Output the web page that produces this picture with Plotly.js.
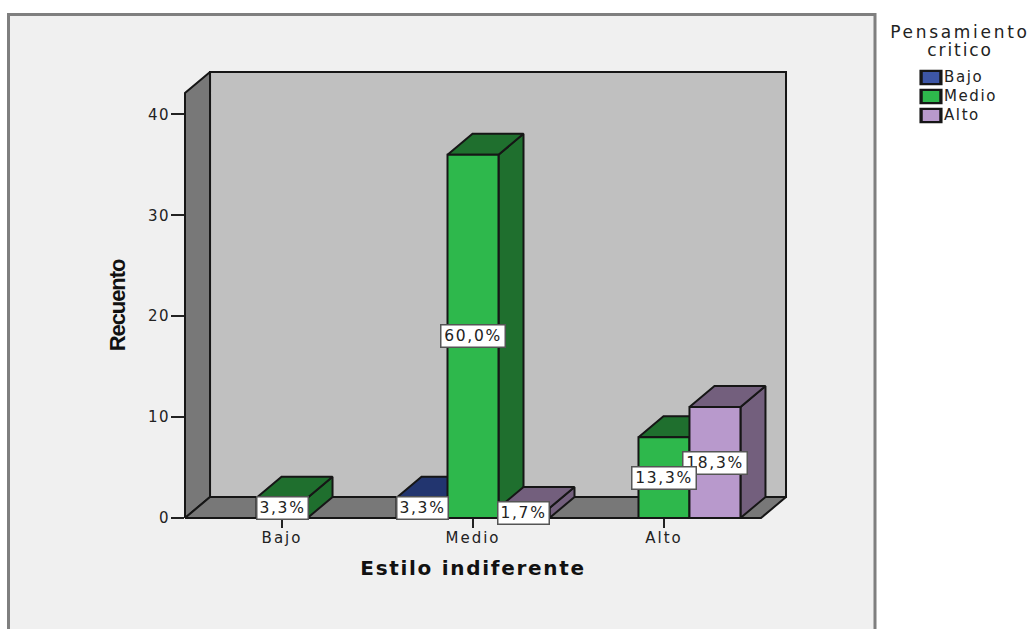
<!DOCTYPE html>
<html>
<head>
<meta charset="utf-8">
<script src="https://cdn.plot.ly/plotly-3.0.1.min.js"></script>
<style>
html,body{margin:0;padding:0;background:#fff;overflow:hidden}
.xtick text{letter-spacing:2px}
.ytick text{letter-spacing:1.5px}
.g-xtitle text{letter-spacing:1.7px}
.g-ytitle text{letter-spacing:-1.1px}
.legendtext{letter-spacing:1.6px;font-size:15px !important}
.annotation text{letter-spacing:1.7px}
.annotation[data-index="6"] text{letter-spacing:2.7px}
.annotation[data-index="7"] text{letter-spacing:1.9px}
.legendpoints path{transform:translate(27px,0) scale(1.65,1.1)}
</style>
</head>
<body>
<div id="chart" style="width:1032px;height:629px"></div>
<script>
var categories = ["Bajo", "Medio", "Alto"];
var seriesNames = ["Bajo", "Medio", "Alto"];
var bajoValues = [null, 2, null];
var medioValues = [2, 36, 8];
var altoValues = [null, 1, 11];
var bajoLabels = [null, "3,3%", null];
var medioLabels = ["3,3%", "60,0%", "13,3%"];
var altoLabels = [null, "1,7%", "18,3%"];
var yTicks = [0, 10, 20, 30, 40];

var frontColors = ["#3d56a6", "#2eb84c", "#b899cc"];
var darkColors = ["#22356f", "#1f6f2e", "#735f7d"];
var edge = "#161616";
var values = [bajoValues, medioValues, altoValues];
var labels = [bajoLabels, medioLabels, altoLabels];

// axis windows and the oblique depth of the 3-D look
var xRange = [-0.508, 2.508];
var yMax = 42.12;
var barW = 0.267;
var depthX = 0.131;
var depthY = 2.08;
var xUnit = 190.98, yUnit = 10.09;
// the wall subplot runs 2px beyond the chart so its outline is not clipped
var wallXRange = [xRange[0] - 2 / xUnit, xRange[0] + 604 / xUnit];
var wallYRange = [-2 / yUnit, 448 / yUnit];

function px(p) { return (p - 183) / 606; }
function py(p) { return (520 - p) / 450; }

function poly(xs, ys, fill) {
  return {type: "scatter", mode: "lines", x: xs.concat([xs[0]]), y: ys.concat([ys[0]]),
    xaxis: "x2", yaxis: "y2", fill: "toself", fillcolor: fill,
    line: {color: edge, width: 2}, showlegend: false, hoverinfo: "skip"};
}

var x0 = xRange[0], x1 = xRange[1];
var traces = [
  poly([x0 + depthX, x1 + depthX, x1 + depthX, x0 + depthX], [depthY, depthY, yMax + depthY, yMax + depthY], "#c0c0c0"),
  poly([x0, x0 + depthX, x0 + depthX, x0], [0, depthY, yMax + depthY, yMax], "#787878"),
  poly([x0, x1, x1 + depthX, x0 + depthX], [0, 0, depthY, depthY], "#787878")
];

// side and top faces, painted left to right
categories.forEach(function (c, g) {
  values.forEach(function (vals, s) {
    var v = vals[g];
    if (v === null) return;
    var xl = g + (s - 1.5) * barW, xr = xl + barW;
    traces.push(poly([xr, xr + depthX, xr + depthX, xr], [0, depthY, v + depthY, v], darkColors[s]));
    traces.push(poly([xl, xl + depthX, xr + depthX, xr], [v, v + depthY, v + depthY, v], darkColors[s]));
  });
});

// front faces, on an overlay subplot so they sit above every depth face
seriesNames.forEach(function (name, s) {
  traces.push({type: "bar", name: name, x: [0, 1, 2], y: values[s], xaxis: "x3", yaxis: "y3",
    marker: {color: frontColors[s], line: {color: edge, width: 2}}, hoverinfo: "skip"});
});

var annotations = [];
[0, 2, 1].forEach(function (s) {
  categories.forEach(function (c, g) {
    if (labels[s][g] === null) return;
    annotations.push({x: g + (s - 1) * barW, y: values[s][g] / 2, xref: "x", yref: "y",
      xanchor: "center", yanchor: "middle", align: "center", valign: "middle",
      text: labels[s][g], showarrow: false, bgcolor: "#ffffff", bordercolor: "#555555",
      width: labels[s][g].length > 4 ? 61 : 48, height: 19,
      borderwidth: 1.5, borderpad: 1, font: {family: "DejaVu Sans", size: 15.5, color: "#222222"}});
  });
});
annotations.push({xref: "paper", yref: "paper", x: px(960), y: py(32), xanchor: "center", yanchor: "middle",
  text: "Pensamiento", showarrow: false, font: {family: "DejaVu Sans", size: 17, color: "#222222"}});
annotations.push({xref: "paper", yref: "paper", x: px(960), y: py(50), xanchor: "center", yanchor: "middle",
  text: "critico", showarrow: false, font: {family: "DejaVu Sans", size: 17, color: "#222222"}});

var layout = {
  width: 1032, height: 629,
  margin: {l: 183, r: 243, t: 70, b: 109, pad: 0},
  paper_bgcolor: "#ffffff", plot_bgcolor: "rgba(0,0,0,0)",
  barmode: "group", bargap: 0.199, bargroupgap: 0,
  xaxis: {domain: [2 / 606, 578 / 606], anchor: "y", range: xRange, tickmode: "array", tickvals: [0, 1, 2], ticktext: categories,
    ticks: "outside", ticklen: 9, tickwidth: 2, tickcolor: "#222222", ticklabelstandoff: -3,
    showgrid: false, zeroline: false, showline: false,
    tickfont: {family: "DejaVu Sans", size: 15, color: "#222222"},
    title: {text: "Estilo indiferente", standoff: 14,
      font: {family: "DejaVu Sans", size: 20, color: "#111111", weight: "bold"}}},
  yaxis: {domain: [2 / 450, 427 / 450], anchor: "x", range: [0, yMax], tickmode: "array", tickvals: yTicks,
    ticks: "outside", ticklen: 13, tickwidth: 2, tickcolor: "#222222", ticklabelstandoff: -2,
    showgrid: false, zeroline: false, showline: false,
    tickfont: {family: "DejaVu Sans", size: 15, color: "#222222"},
    title: {text: "Recuento", standoff: 16,
      font: {family: "Liberation Sans", size: 22, color: "#111111", weight: "bold"}}},
  xaxis2: {domain: [0, 1], range: wallXRange, anchor: "y2", visible: false},
  yaxis2: {domain: [0, 1], range: wallYRange, anchor: "x2", visible: false},
  xaxis3: {range: wallXRange, overlaying: "x2", anchor: "y3", visible: false},
  yaxis3: {range: wallYRange, overlaying: "y2", anchor: "x3", visible: false},
  legend: {x: px(904), y: py(63), xanchor: "left", yanchor: "top",
    bgcolor: "rgba(0,0,0,0)", traceorder: "normal",
    font: {family: "DejaVu Sans", size: 12, color: "#222222"}},
  shapes: [{type: "rect", xref: "paper", yref: "paper", layer: "below",
    x0: px(8.5), x1: px(875), y0: py(660), y1: py(14.5),
    fillcolor: "#f0f0f0", line: {color: "#7f7f7f", width: 3}}],
  annotations: annotations
};

Plotly.newPlot("chart", traces, layout, {displayModeBar: false, staticPlot: true});
</script>
</body>
</html>
